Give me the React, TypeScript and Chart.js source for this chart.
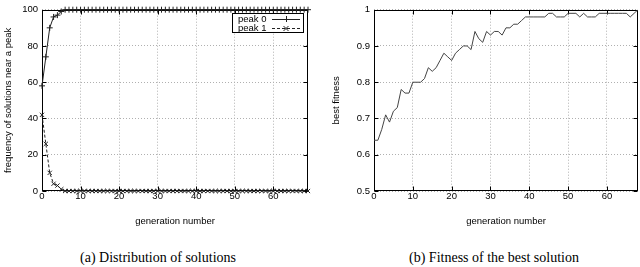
import React, { useEffect, useRef } from "react";
import { Chart, registerables } from "chart.js";
Chart.register(...registerables);

const SANS = "'Liberation Sans', Arial, Helvetica, sans-serif";
const SERIF = "'Liberation Serif', 'Times New Roman', serif";

// ---- data ----
const peak0: number[] = [
  58, 74, 90, 96, 97, 99, 100, 100, 100, 100,
  100, 100, 100, 100, 100, 100, 100, 100, 100, 100,
  100, 100, 100, 100, 100, 100, 100, 100, 100, 100,
  100, 100, 100, 100, 100, 100, 100, 100, 100, 100,
  100, 100, 100, 100, 100, 100, 100, 100, 100, 100,
  100, 100, 100, 100, 100, 100, 100, 100, 100, 100,
  100, 100, 100, 100, 100, 100, 100, 100, 100, 100,
];
const peak1: number[] = [
  42, 26, 10, 4, 3, 1, 0, 0, 0, 0,
  0, 0, 0, 0, 0, 0, 0, 0, 0, 0,
  0, 0, 0, 0, 0, 0, 0, 0, 0, 0,
  0, 0, 0, 0, 0, 0, 0, 0, 0, 0,
  0, 0, 0, 0, 0, 0, 0, 0, 0, 0,
  0, 0, 0, 0, 0, 0, 0, 0, 0, 0,
  0, 0, 0, 0, 0, 0, 0, 0, 0, 0,
];
const bestFitness: number[] = [
  0.64, 0.64, 0.67, 0.71, 0.69, 0.72, 0.73, 0.78, 0.77, 0.77,
  0.80, 0.80, 0.80, 0.81, 0.84, 0.83, 0.84, 0.86, 0.88, 0.87,
  0.86, 0.88, 0.89, 0.90, 0.90, 0.89, 0.94, 0.92, 0.91, 0.94,
  0.93, 0.94, 0.94, 0.93, 0.95, 0.95, 0.96, 0.96, 0.97, 0.98,
  0.98, 0.98, 0.98, 0.98, 0.98, 0.99, 0.99, 0.98, 0.98, 0.98,
  0.99, 0.99, 0.99, 0.98, 0.99, 0.98, 0.98, 0.98, 0.99, 0.99,
  0.99, 0.99, 0.99, 0.99, 0.99, 0.99, 0.98, 0.99, 1.0,
];
const legendLabels = ["peak 0", "peak 1"];
const xTitle = "generation number";
const yTitleLeft = "frequency of solutions near a peak";
const yTitleRight = "best fitness";
const captionLeft = "(a) Distribution of solutions";
const captionRight = "(b) Fitness of the best solution";

const toPoints = (arr: number[]) => arr.map((v, i) => ({ x: i, y: v }));

// ---- plugins ----
const gnuFrame = {
  id: "gnuFrame",
  beforeDatasetsDraw(chart: any) {
    const { ctx, chartArea: a, scales } = chart;
    ctx.save();
    ctx.strokeStyle = "#000";
    ctx.lineWidth = 1;
    ctx.setLineDash([]);
    const L = Math.round(a.left) + 0.5;
    const R = Math.round(a.right) - 0.5;
    const T = Math.round(a.top) + 0.5;
    const B = Math.round(a.bottom) - 0.5;
    ctx.strokeRect(L, T, R - L, B - T);
    const len = 4;
    ctx.beginPath();
    for (const t of scales.x.ticks) {
      const px = Math.round(scales.x.getPixelForValue(t.value)) + 0.5;
      ctx.moveTo(px, B);
      ctx.lineTo(px, B - len);
      ctx.moveTo(px, T);
      ctx.lineTo(px, T + len);
    }
    for (const t of scales.y.ticks) {
      const py = Math.round(scales.y.getPixelForValue(t.value)) + 0.5;
      ctx.moveTo(L, py);
      ctx.lineTo(L + len, py);
      ctx.moveTo(R, py);
      ctx.lineTo(R - len, py);
    }
    ctx.stroke();
    ctx.restore();
  },
};

const gnuLegend = {
  id: "gnuLegend",
  afterDatasetsDraw(chart: any) {
    const { ctx, chartArea: a } = chart;
    const right = Math.round(a.right) - 4;
    const top = Math.round(a.top) + 3;
    const w = 72, h = 20;
    const left = right - w;
    ctx.save();
    ctx.fillStyle = "#fff";
    ctx.fillRect(left, top, w, h);
    ctx.strokeStyle = "#000";
    ctx.lineWidth = 1;
    ctx.strokeRect(left + 0.5, top + 0.5, w - 1, h - 1);
    ctx.font = `9.5px ${SANS}`;
    ctx.textBaseline = "middle";
    ctx.textAlign = "left";
    ctx.fillStyle = "#000";
    const rows = [top + 6, top + 15];
    chart.data.datasets.forEach((ds: any, i: number) => {
      const y = rows[i];
      ctx.fillText(legendLabels[i], left + 6, y);
      const x0 = right - 32, x1 = right - 4, xm = (x0 + x1) / 2;
      ctx.strokeStyle = ds.borderColor;
      ctx.setLineDash(ds.borderDash || []);
      ctx.beginPath();
      ctx.moveTo(x0, y + 0.5);
      ctx.lineTo(x1, y + 0.5);
      ctx.stroke();
      ctx.setLineDash([]);
      ctx.beginPath();
      if (ds.pointStyle === "cross") {
        ctx.moveTo(xm - 3, y + 0.5);
        ctx.lineTo(xm + 3, y + 0.5);
        ctx.moveTo(xm + 0.5, y - 3);
        ctx.lineTo(xm + 0.5, y + 3);
      } else {
        ctx.moveTo(xm - 2.5, y - 2);
        ctx.lineTo(xm + 2.5, y + 3);
        ctx.moveTo(xm + 2.5, y - 2);
        ctx.lineTo(xm - 2.5, y + 3);
      }
      ctx.stroke();
    });
    ctx.restore();
  },
};

function makeOptions(cfg: {
  xMax: number;
  yMin: number;
  yMax: number;
  yStep: number;
  yWidth: number;
  padTop: number;
  padRight: number;
  yTitle: string;
  yTitlePad: number;
}) {
  const font = { family: SANS, size: 9.5 };
  return {
    responsive: false,
    animation: false as const,
    layout: { padding: { left: 0, top: cfg.padTop, right: cfg.padRight, bottom: 0 } },
    plugins: { legend: { display: false }, tooltip: { enabled: false } },
    scales: {
      x: {
        type: "linear" as const,
        min: 0,
        max: cfg.xMax,
        afterFit: (s: any) => {
          s.height = 39;
        },
        ticks: { stepSize: 10, includeBounds: false, padding: 0, color: "#000", font, maxRotation: 0 },
        grid: { color: "#b0b0b0", lineWidth: 1, drawTicks: false },
        border: { display: false, dash: [1, 2] },
        title: { display: true, text: xTitle, color: "#000", font, padding: { top: 0, bottom: 3 } },
      },
      y: {
        type: "linear" as const,
        min: cfg.yMin,
        max: cfg.yMax,
        afterFit: (s: any) => {
          s.width = cfg.yWidth;
        },
        ticks: {
          stepSize: cfg.yStep,
          padding: 4,
          color: "#000",
          font,
          callback: (v: any) => String(parseFloat(Number(v).toFixed(2))),
        },
        grid: { color: "#b0b0b0", lineWidth: 1, drawTicks: false },
        border: { display: false, dash: [1, 2] },
        title: { display: true, text: cfg.yTitle, color: "#000", font, padding: { top: cfg.yTitlePad, bottom: 0 } },
      },
    },
  };
}

function DistributionChart() {
  const ref = useRef<HTMLCanvasElement | null>(null);
  useEffect(() => {
    if (!ref.current) return;
    const chart = new Chart(ref.current, {
      type: "line",
      data: {
        datasets: [
          {
            label: legendLabels[0],
            data: toPoints(peak0),
            borderColor: "#222",
            borderWidth: 1,
            pointStyle: "cross",
            pointRadius: 3,
            pointBorderColor: "#222",
            pointBorderWidth: 1,
            pointBackgroundColor: "rgba(0,0,0,0)",
            tension: 0,
            clip: false,
          } as any,
          {
            label: legendLabels[1],
            data: toPoints(peak1),
            borderColor: "#222",
            borderWidth: 1,
            borderDash: [3, 2],
            pointStyle: "crossRot",
            pointRadius: 3,
            pointBorderColor: "#222",
            pointBorderWidth: 1,
            pointBackgroundColor: "rgba(0,0,0,0)",
            tension: 0,
            clip: false,
          } as any,
        ],
      },
      options: makeOptions({
        xMax: 69,
        yMin: 0,
        yMax: 100,
        yStep: 20,
        yWidth: 42,
        padTop: 4,
        padRight: 12,
        yTitle: yTitleLeft,
        yTitlePad: 2.4,
      }) as any,
      plugins: [gnuFrame, gnuLegend],
    });
    return () => chart.destroy();
  }, []);
  return <canvas ref={ref} width={320} height={230} style={{ position: "absolute", left: 0, top: 0 }} />;
}

function FitnessChart() {
  const ref = useRef<HTMLCanvasElement | null>(null);
  useEffect(() => {
    if (!ref.current) return;
    const chart = new Chart(ref.current, {
      type: "line",
      data: {
        datasets: [
          {
            label: yTitleRight,
            data: toPoints(bestFitness),
            borderColor: "#444",
            borderWidth: 1,
            pointRadius: 0,
            tension: 0,
          } as any,
        ],
      },
      options: makeOptions({
        xMax: 68,
        yMin: 0.5,
        yMax: 1,
        yStep: 0.1,
        yWidth: 54,
        padTop: 3,
        padRight: 2,
        yTitle: yTitleRight,
        yTitlePad: 11,
      }) as any,
      plugins: [gnuFrame],
    });
    return () => chart.destroy();
  }, []);
  return <canvas ref={ref} width={320} height={230} style={{ position: "absolute", left: 320, top: 0 }} />;
}

export default function App() {
  const cap: React.CSSProperties = {
    position: "absolute",
    top: 250,
    width: 300,
    textAlign: "center",
    fontFamily: SERIF,
    fontSize: 14,
    lineHeight: "16px",
    color: "#000",
    whiteSpace: "nowrap",
  };
  return (
    <div style={{ position: "absolute", left: 0, top: 0, width: 640, height: 267, background: "#fff", overflow: "hidden" }}>
      <DistributionChart />
      <FitnessChart />
      <div style={{ ...cap, left: 158 - 150 }}>{captionLeft}</div>
      <div style={{ ...cap, left: 494 - 150 }}>{captionRight}</div>
    </div>
  );
}
